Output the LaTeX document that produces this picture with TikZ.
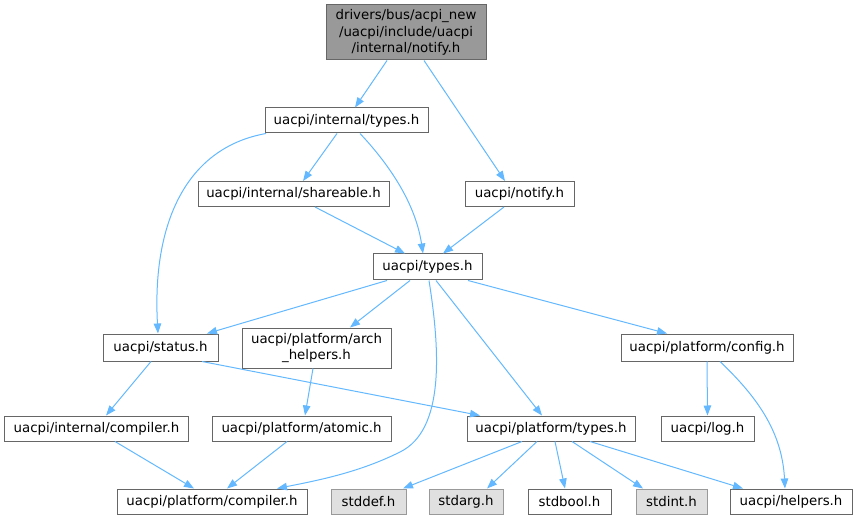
\documentclass[tikz,border=0pt]{standalone}
\usepackage{fontspec}
\setmainfont{DejaVu Sans}
\usetikzlibrary{arrows.meta}
\definecolor{edgeblue}{HTML}{63B8FF}
\definecolor{bordergray}{HTML}{666666}
\definecolor{lightborder}{HTML}{999999}
\definecolor{lightfill}{HTML}{E0E0E0}
\definecolor{topfill}{HTML}{999999}
\tikzset{
  filebox/.style 2 args={draw=bordergray, fill=white, line width=1bp, rectangle, inner sep=0pt,
    minimum width=#1 bp, minimum height=#2 bp, align=center,
    font=\fontsize{13.33bp}{16.5bp}\selectfont},
  sysbox/.style 2 args={filebox={#1}{#2}, draw=lightborder, fill=lightfill},
  topbox/.style 2 args={filebox={#1}{#2}, fill=topfill},
  dep/.style={draw=edgeblue, line width=1bp, -{Triangle[length=10bp,width=7.5bp]}}
}
\begin{document}
\begin{tikzpicture}[x=1bp,y=-1bp]
\useasboundingbox (0,0) rectangle (857,520);
% nodes
\node[topbox={160}{55}] (top) at (406,32.5) {drivers/bus/acpi\_new\\/uacpi/include/uacpi\\/internal/notify.h};
\node[filebox={163}{25}] (itypes) at (346.5,120.5) {uacpi/internal/types.h};
\node[filebox={191}{25}] (share) at (293.5,194) {uacpi/internal/shareable.h};
\node[filebox={109}{25}] (notify) at (519.5,194) {uacpi/notify.h};
\node[filebox={109}{26}] (types) at (427.5,267) {uacpi/types.h};
\node[filebox={115}{27}] (status) at (160.5,347.5) {uacpi/status.h};
\node[filebox={149}{40}] (arch) at (316.5,348) {uacpi/platform/arch\\\_helpers.h};
\node[filebox={172}{27}] (config) at (707,347.5) {uacpi/platform/config.h};
\node[filebox={183}{25}] (icomp) at (96.5,428.5) {uacpi/internal/compiler.h};
\node[filebox={179}{25}] (atomic) at (301.5,428.5) {uacpi/platform/atomic.h};
\node[filebox={168}{25}] (ptypes) at (551,428.5) {uacpi/platform/types.h};
\node[filebox={93}{25}] (log) at (707.5,428.5) {uacpi/log.h};
\node[filebox={190}{25}] (pcomp) at (212,501.5) {uacpi/platform/compiler.h};
\node[sysbox={75}{25}] (stddef) at (368.5,501.5) {stddef.h};
\node[sysbox={74}{25}] (stdarg) at (466,501.5) {stdarg.h};
\node[filebox={83}{25}] (stdbool) at (569.5,501.5) {stdbool.h};
\node[sysbox={71}{25}] (stdint) at (671.5,501.5) {stdint.h};
\node[filebox={122}{25}] (helpers) at (791,501.5) {uacpi/helpers.h};
% edges
\draw[dep] ([xshift=-19bp]top.south) -- ([xshift=8.5bp]itypes.north);
\draw[dep] ([xshift=18bp]top.south) -- ([xshift=-14.5bp]notify.north);
\draw[dep] ([xshift=-9.5bp]itypes.south) -- ([xshift=9.5bp]share.north);
\draw[dep] ([xshift=13.5bp]itypes.south) .. controls (385,160) and (415,200) .. ([xshift=-4.5bp]types.north);
\draw[dep] ([xshift=-80.5bp]itypes.south) .. controls (185,148) and (152,225) .. ([xshift=-2.5bp]status.north);
\draw[dep] ([xshift=21.5bp]share.south) -- ([xshift=-22.5bp]types.north);
\draw[dep] ([xshift=-15.5bp]notify.south) -- ([xshift=15.5bp]types.north);
\draw[dep] ([xshift=-40.5bp]types.south) -- ([xshift=46.5bp]status.north);
\draw[dep] ([xshift=-17.5bp]types.south) -- ([xshift=33.5bp]arch.north);
\draw[dep] ([xshift=1.5bp]types.south) .. controls (440,350) and (445,430) .. (400,452) .. controls (360,472) and (320,480) .. ([xshift=65bp]pcomp.north);
\draw[dep] ([xshift=8.5bp]types.south) -- ([xshift=-9bp]ptypes.north);
\draw[dep] ([xshift=40.5bp]types.south) -- ([xshift=-40bp]config.north);
\draw[dep] ([xshift=-9.5bp]status.south) -- ([xshift=9.5bp]icomp.north);
\draw[dep] ([xshift=41.5bp]status.south) -- ([xshift=-71bp]ptypes.north);
\draw[dep] ([xshift=-3.5bp]arch.south) -- ([xshift=3.5bp]atomic.north);
\draw[dep] (config.south) -- (log.north);
\draw[dep] ([xshift=13bp]config.south) .. controls (755,395) and (782,430) .. ([xshift=-6bp]helpers.north);
\draw[dep] ([xshift=18.5bp]icomp.south) -- ([xshift=-18bp]pcomp.north);
\draw[dep] ([xshift=-14.5bp]atomic.south) -- ([xshift=15bp]pcomp.north);
\draw[dep] ([xshift=-29bp]ptypes.south) -- ([xshift=34.5bp]stddef.north);
\draw[dep] ([xshift=-14bp]ptypes.south) -- ([xshift=21bp]stdarg.north);
\draw[dep] ([xshift=4bp]ptypes.south) -- ([xshift=-4.5bp]stdbool.north);
\draw[dep] ([xshift=21bp]ptypes.south) -- ([xshift=-28.5bp]stdint.north);
\draw[dep] ([xshift=39bp]ptypes.south) -- ([xshift=-48bp]helpers.north);
\end{tikzpicture}
\end{document}
